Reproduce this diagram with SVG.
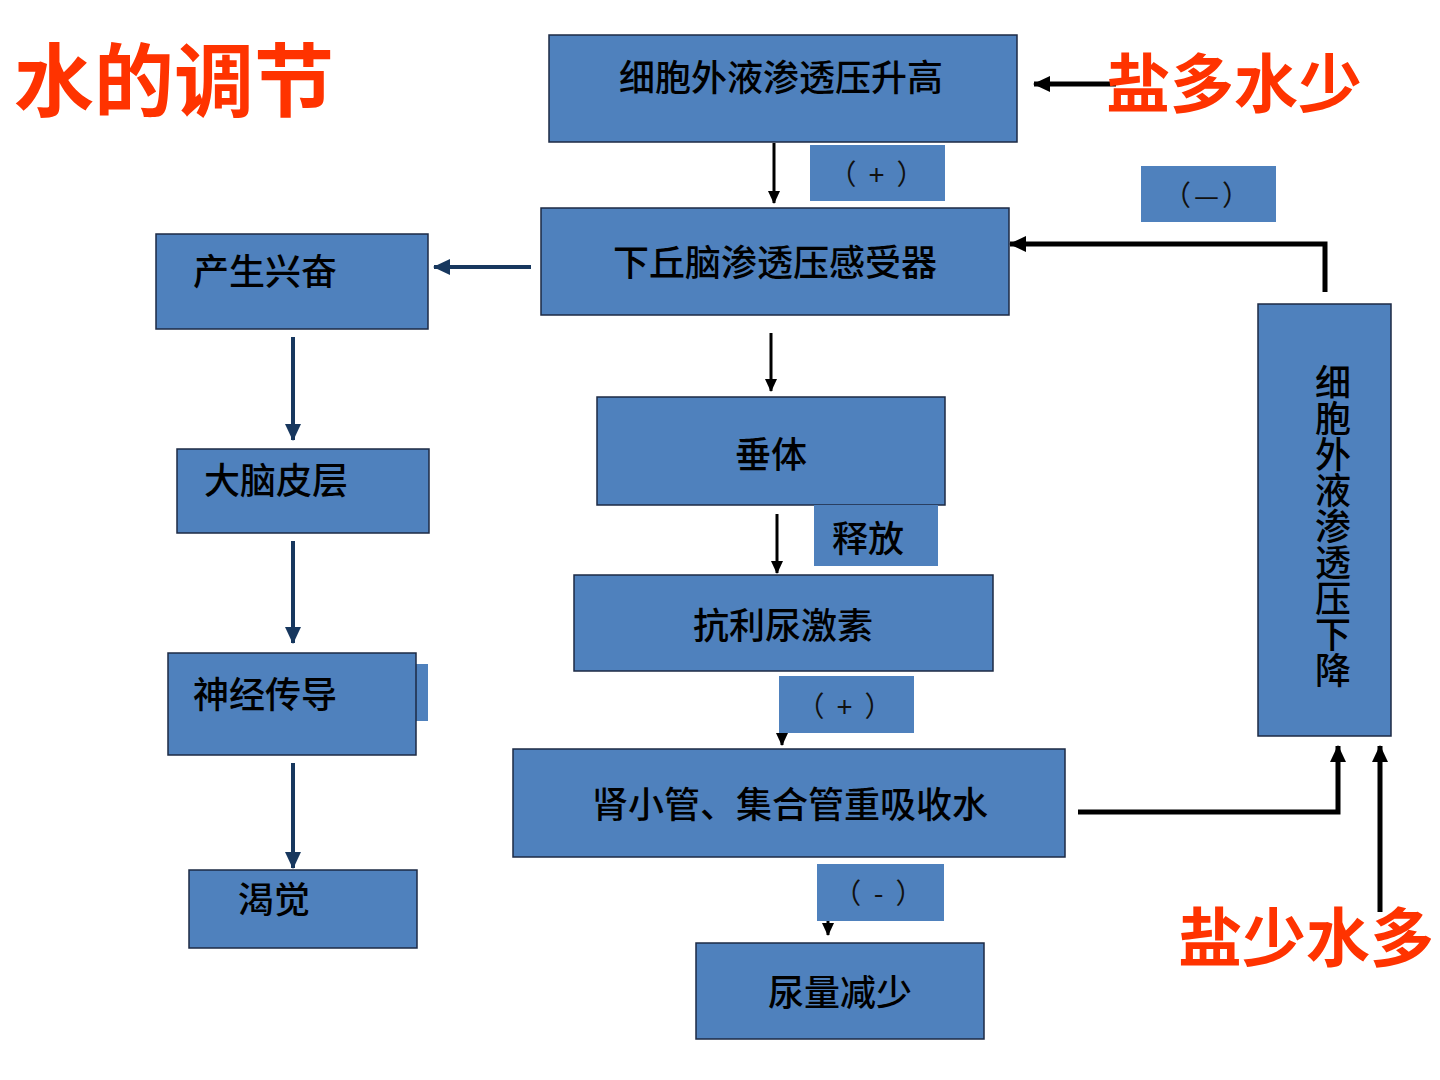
<svg xmlns="http://www.w3.org/2000/svg" width="1440" height="1080" viewBox="0 0 1440 1080">
<defs>
<style>
.box{fill:#4F81BD;stroke:#1C2A44;stroke-width:1.5}
.lab{fill:#4F81BD;stroke:none}
.t{font-family:"Noto Sans CJK SC","Noto Sans",sans-serif;fill:#000;font-size:36px;font-weight:500}
.tl{font-family:"Noto Sans CJK SC","Noto Sans",sans-serif;fill:#111;font-size:28px;letter-spacing:3px}
.red{font-family:"Noto Sans CJK SC","Noto Sans",sans-serif;fill:#FF3300;font-weight:bold}
.blk{stroke:#000;stroke-width:3;fill:none}
.blk5{stroke:#000;stroke-width:5;fill:none}
.blu{stroke:#17375E;stroke-width:4;fill:none}
</style>
<marker id="ab" markerWidth="14" markerHeight="14" refX="12" refY="7" orient="auto" markerUnits="userSpaceOnUse"><path d="M0,1 L13,7 L0,13 Z" fill="#000"/></marker>
<marker id="ab2" markerWidth="18" markerHeight="18" refX="16" refY="9" orient="auto" markerUnits="userSpaceOnUse"><path d="M0,1 L17,9 L0,17 Z" fill="#000"/></marker>
<marker id="au" markerWidth="18" markerHeight="18" refX="16" refY="9" orient="auto" markerUnits="userSpaceOnUse"><path d="M0,1 L17,9 L0,17 Z" fill="#17375E"/></marker>
</defs>
<rect width="1440" height="1080" fill="#fff"/>

<text class="red" x="14" y="110" font-size="80">水的调节</text>

<g id="connectors">
<line class="blk" x1="774" y1="143" x2="774" y2="203" marker-end="url(#ab)"/>
<line class="blu" x1="531" y1="267" x2="434" y2="267" marker-end="url(#au)"/>
<line class="blu" x1="293" y1="337" x2="293" y2="440" marker-end="url(#au)"/>
<line class="blu" x1="293" y1="541" x2="293" y2="643" marker-end="url(#au)"/>
<line class="blu" x1="293" y1="763" x2="293" y2="868" marker-end="url(#au)"/>
<line class="blk" x1="771" y1="333" x2="771" y2="391" marker-end="url(#ab)"/>
<line class="blk" x1="777" y1="514" x2="777" y2="573" marker-end="url(#ab)"/>
<line class="blk" x1="782" y1="685" x2="782" y2="745" marker-end="url(#ab)"/>
<line class="blk" x1="828" y1="921" x2="828" y2="935" marker-end="url(#ab)"/>
<polyline class="blk5" points="1078,812 1338,812 1338,746" marker-end="url(#ab2)"/>
<line class="blk5" x1="1380" y1="912" x2="1380" y2="746" marker-end="url(#ab2)"/>
<polyline class="blk5" points="1325,292 1325,244 1010,244" marker-end="url(#ab2)"/>
<line class="blk5" x1="1116" y1="84" x2="1034" y2="84" marker-end="url(#ab2)"/>
</g>

<g id="n-high">
<rect class="box" x="549" y="35" width="468" height="107"/>
<text class="t" x="781" y="91" text-anchor="middle">细胞外液渗透压升高</text>
</g>
<g id="l-plus1">
<rect class="lab" x="810" y="145" width="135" height="56"/>
<text class="tl" x="878" y="185" text-anchor="middle">（ + ）</text>
</g>
<g id="n-hypo">
<rect class="box" x="541" y="208" width="468" height="107"/>
<text class="t" x="775" y="276" text-anchor="middle">下丘脑渗透压感受器</text>
</g>
<g id="n-excite">
<rect class="box" x="156" y="234" width="272" height="95"/>
<text class="t" x="193" y="285">产生兴奋</text>
</g>
<g id="n-cortex">
<rect class="box" x="177" y="449" width="252" height="84"/>
<text class="t" x="204" y="494">大脑皮层</text>
</g>
<g id="n-nerve">
<rect class="lab" x="410" y="664" width="18" height="57"/>
<rect class="box" x="168" y="653" width="248" height="102"/>
<text class="t" x="193" y="708">神经传导</text>
</g>
<g id="n-thirst">
<rect class="box" x="189" y="870" width="228" height="78"/>
<text class="t" x="238" y="913">渴觉</text>
</g>
<g id="n-pit">
<rect class="box" x="597" y="397" width="348" height="108"/>
<text class="t" x="771" y="468" text-anchor="middle">垂体</text>
</g>
<g id="l-release">
<rect class="lab" x="814" y="505" width="124" height="61"/>
<text class="t" x="868" y="552" text-anchor="middle" font-size="40">释放</text>
</g>
<g id="n-adh">
<rect class="box" x="574" y="575" width="419" height="96"/>
<text class="t" x="783" y="639" text-anchor="middle">抗利尿激素</text>
</g>
<g id="l-plus2">
<rect class="lab" x="779" y="676" width="135" height="57"/>
<text class="tl" x="846" y="717" text-anchor="middle">（ + ）</text>
</g>
<g id="n-kidney">
<rect class="box" x="513" y="749" width="552" height="108"/>
<text class="t" x="790" y="818" text-anchor="middle">肾小管、集合管重吸收水</text>
</g>
<g id="l-minus">
<rect class="lab" x="817" y="864" width="127" height="57"/>
<text class="tl" x="880" y="904" text-anchor="middle">（ - ）</text>
</g>
<g id="n-urine">
<rect class="box" x="696" y="943" width="288" height="96"/>
<text class="t" x="840" y="1006" text-anchor="middle">尿量减少</text>
</g>
<g id="n-low">
<rect class="box" x="1258" y="304" width="133" height="432"/>
<text class="t" x="1333" y="364" writing-mode="tb" font-size="35">细胞外液渗透压下降</text>
</g>
<g id="l-minus2">
<rect class="lab" x="1141" y="166" width="135" height="56"/>
<text class="tl" x="1208" y="206" text-anchor="middle">（—）</text>
</g>
<g id="t-salt-high">
<text class="red" x="1106" y="107" font-size="64">盐多水少</text>
</g>
<g id="t-salt-low">
<text class="red" x="1178" y="961" font-size="64">盐少水多</text>
</g>
</svg>
